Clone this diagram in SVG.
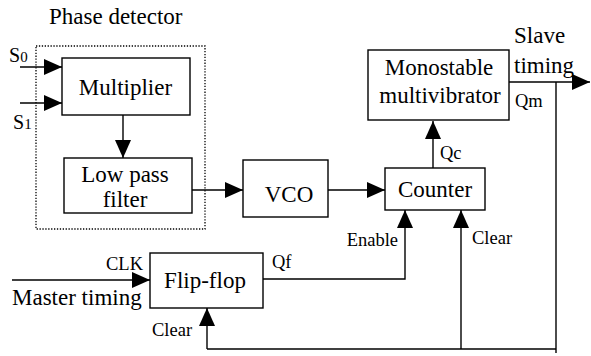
<svg xmlns="http://www.w3.org/2000/svg" width="591" height="356" viewBox="0 0 591 356" font-family="'Liberation Serif', 'DejaVu Serif', serif">
<defs>
<marker id="ah" markerUnits="userSpaceOnUse" markerWidth="18" markerHeight="16" viewBox="0 0 18 16" refX="18" refY="8" orient="auto">
<path d="M0,0 L18,8 L0,16 z" fill="#000"/>
</marker>
</defs>
<style>
text{font-family:'Liberation Serif','DejaVu Serif',serif;fill:#000}
.big{font-size:23px}
.sm{font-size:18.5px}
.box{fill:#fff;stroke:#000;stroke-width:1.4}
.ln{fill:none;stroke:#000;stroke-width:1.4}
.arr{fill:none;stroke:#000;stroke-width:1.4;marker-end:url(#ah)}
.dot{fill:none;stroke:#000;stroke-width:1.3;stroke-dasharray:1.3 1.6}
</style>
<rect width="591" height="356" fill="#fff"/>

<g id="phase-detector">
<rect class="dot" x="36" y="46" width="169" height="183"/>
<text class="big" x="49" y="24">Phase detector</text>
</g>

<g id="connectors">
<line class="arr" x1="20" y1="67" x2="62" y2="67"/>
<line class="arr" x1="20" y1="103" x2="62" y2="103"/>
<line class="arr" x1="123" y1="115" x2="123" y2="158"/>
<line class="arr" x1="192" y1="190" x2="243" y2="190"/>
<line class="arr" x1="328" y1="190" x2="385" y2="190"/>
<line class="arr" x1="433" y1="168" x2="433" y2="121"/>
<line class="arr" x1="509" y1="82" x2="590" y2="82"/>
<polyline class="ln" points="556,82 556,353"/>
<polyline class="ln" points="556,349 207,349"/>
<line class="arr" x1="207" y1="349" x2="207" y2="308"/>
<line class="arr" x1="461" y1="349" x2="461" y2="210"/>
<polyline class="arr" points="263,279 405,279 405,210"/>
<line class="arr" x1="12" y1="280" x2="150" y2="280"/>
<text class="sm" x="106" y="270">CLK</text>
<text class="sm" x="272" y="268">Qf</text>
<text class="sm" x="398" y="246" text-anchor="end">Enable</text>
<text class="sm" x="472" y="244">Clear</text>
<text class="sm" x="152" y="336">Clear</text>
<text class="sm" x="440" y="159">Qc</text>
<text class="sm" x="515" y="107">Qm</text>
<text x="9" y="62"><tspan font-size="20">S</tspan><tspan font-size="15">0</tspan></text>
<text x="13" y="129"><tspan font-size="20">S</tspan><tspan font-size="15">1</tspan></text>
<text class="big" x="514" y="43">Slave</text>
<text class="big" x="514" y="73">timing</text>
<text class="big" x="12" y="305">Master timing</text>
</g>

<g id="multiplier">
<rect class="box" x="62" y="58" width="128" height="57"/>
<text class="big" x="125.5" y="95" text-anchor="middle">Multiplier</text>
</g>

<g id="low-pass-filter">
<rect class="box" x="64" y="158" width="128" height="55"/>
<text class="big" x="125" y="182" text-anchor="middle">Low pass</text>
<text class="big" x="125" y="207" text-anchor="middle">filter</text>
</g>

<g id="vco">
<rect class="box" x="243" y="160" width="85" height="57"/>
<text class="big" x="289" y="202" text-anchor="middle">VCO</text>
</g>

<g id="counter">
<rect class="box" x="385" y="168" width="100" height="42"/>
<text class="big" x="435" y="197" text-anchor="middle">Counter</text>
</g>

<g id="monostable">
<rect class="box" x="368" y="50" width="141" height="70"/>
<text class="big" x="439" y="75" text-anchor="middle">Monostable</text>
<text class="big" x="440" y="103" text-anchor="middle">multivibrator</text>
</g>

<g id="flip-flop">
<rect class="box" x="150" y="253" width="113" height="55"/>
<text class="big" x="205" y="288" text-anchor="middle">Flip-flop</text>
</g>
</svg>
